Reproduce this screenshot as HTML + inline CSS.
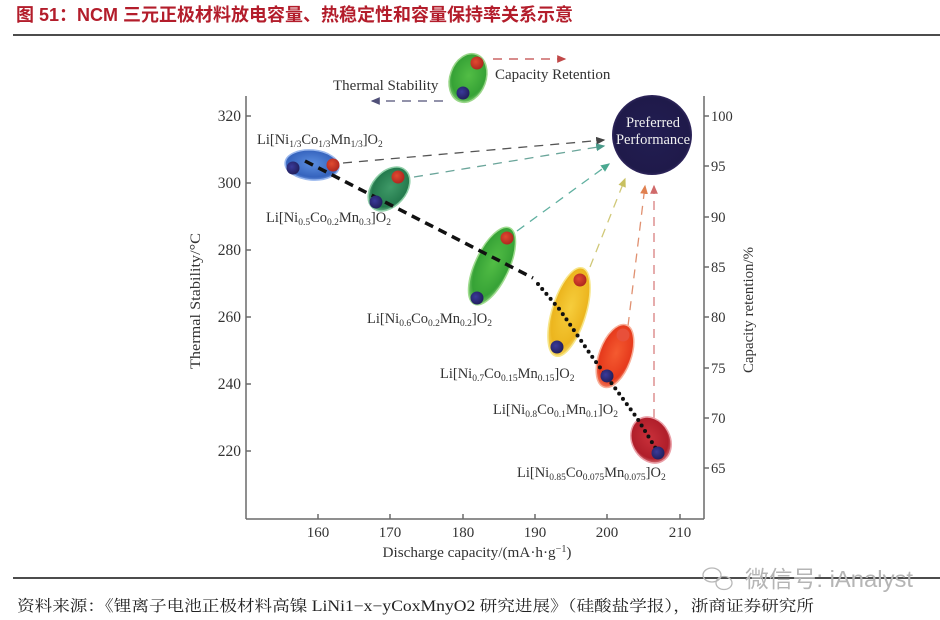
<!DOCTYPE html>
<html><head><meta charset="utf-8">
<style>
html,body{margin:0;padding:0;background:#fff;}
svg{display:block;}
</style></head>
<body>
<svg width="940" height="620" viewBox="0 0 940 620" xmlns="http://www.w3.org/2000/svg">
<defs>
  <radialGradient id="gBlue" cx="50%" cy="45%" r="60%"><stop offset="0" stop-color="#5b8ee0"/><stop offset="0.75" stop-color="#3563bd"/><stop offset="1" stop-color="#7fa4e6"/></radialGradient>
  <radialGradient id="gTeal" cx="50%" cy="45%" r="60%"><stop offset="0" stop-color="#3f9a68"/><stop offset="0.75" stop-color="#247a4d"/><stop offset="1" stop-color="#7fc49a"/></radialGradient>
  <radialGradient id="gGreen" cx="50%" cy="45%" r="60%"><stop offset="0" stop-color="#52bd45"/><stop offset="0.75" stop-color="#36a236"/><stop offset="1" stop-color="#8fd47f"/></radialGradient>
  <radialGradient id="gYellow" cx="50%" cy="45%" r="60%"><stop offset="0" stop-color="#f6cd3c"/><stop offset="0.75" stop-color="#ecb51e"/><stop offset="1" stop-color="#f7e07a"/></radialGradient>
  <radialGradient id="gOrange" cx="50%" cy="45%" r="60%"><stop offset="0" stop-color="#f45a30"/><stop offset="0.75" stop-color="#e63a1c"/><stop offset="1" stop-color="#f59a80"/></radialGradient>
  <radialGradient id="gRed" cx="50%" cy="45%" r="60%"><stop offset="0" stop-color="#c8303a"/><stop offset="0.75" stop-color="#b01e2a"/><stop offset="1" stop-color="#e08a90"/></radialGradient>
  <radialGradient id="gDotR" cx="40%" cy="40%" r="60%"><stop offset="0" stop-color="#e04a30"/><stop offset="1" stop-color="#b02820"/></radialGradient>
  <radialGradient id="gDotB" cx="40%" cy="40%" r="60%"><stop offset="0" stop-color="#3a3a9a"/><stop offset="1" stop-color="#22205e"/></radialGradient>
  <radialGradient id="gPref" cx="50%" cy="50%" r="55%"><stop offset="0" stop-color="#221d52"/><stop offset="0.85" stop-color="#1f1a4a"/><stop offset="1" stop-color="#4a3a7a"/></radialGradient>
  <marker id="aGray" markerWidth="8" markerHeight="8" refX="6" refY="3" orient="auto"><path d="M0,0 L7,3 L0,6 Z" fill="#444"/></marker>
  <marker id="aTeal" markerWidth="8" markerHeight="8" refX="6" refY="3" orient="auto"><path d="M0,0 L7,3 L0,6 Z" fill="#4a9a8a"/></marker>
  <marker id="aGT" markerWidth="8" markerHeight="8" refX="6" refY="3" orient="auto"><path d="M0,0 L7,3 L0,6 Z" fill="#4aa890"/></marker>
  <marker id="aYel" markerWidth="8" markerHeight="8" refX="6" refY="3" orient="auto"><path d="M0,0 L7,3 L0,6 Z" fill="#c8c060"/></marker>
  <marker id="aOr" markerWidth="8" markerHeight="8" refX="6" refY="3" orient="auto"><path d="M0,0 L7,3 L0,6 Z" fill="#e08050"/></marker>
  <marker id="aPk" markerWidth="8" markerHeight="8" refX="6" refY="3" orient="auto"><path d="M0,0 L7,3 L0,6 Z" fill="#d06a6a"/></marker>
  <marker id="aRd" markerWidth="8" markerHeight="8" refX="6" refY="3" orient="auto"><path d="M0,0 L7,3 L0,6 Z" fill="#c04848"/></marker>
  <marker id="aBl" markerWidth="8" markerHeight="8" refX="6" refY="3" orient="auto"><path d="M0,0 L7,3 L0,6 Z" fill="#505078"/></marker>
</defs>

<!-- Title -->
<text x="16" y="21" font-family="'Liberation Sans','Noto Sans CJK SC',sans-serif" font-size="18" font-weight="bold" fill="#b31d2b">图 51：NCM 三元正极材料放电容量、热稳定性和容量保持率关系示意</text>
<line x1="13" y1="35" x2="940" y2="35" stroke="#111" stroke-width="1.5"/>

<!-- Axes -->
<g stroke="#6a6a6a" stroke-width="1.5" fill="none">
  <line x1="246" y1="96" x2="246" y2="519"/>
  <line x1="246" y1="519" x2="704" y2="519"/>
  <line x1="704" y1="96" x2="704" y2="519"/>
  <line x1="246" y1="116" x2="251" y2="116"/>
  <line x1="246" y1="183" x2="251" y2="183"/>
  <line x1="246" y1="250" x2="251" y2="250"/>
  <line x1="246" y1="317" x2="251" y2="317"/>
  <line x1="246" y1="384" x2="251" y2="384"/>
  <line x1="246" y1="451" x2="251" y2="451"/>
  <line x1="318" y1="519" x2="318" y2="514"/>
  <line x1="390" y1="519" x2="390" y2="514"/>
  <line x1="463" y1="519" x2="463" y2="514"/>
  <line x1="535" y1="519" x2="535" y2="514"/>
  <line x1="607" y1="519" x2="607" y2="514"/>
  <line x1="680" y1="519" x2="680" y2="514"/>
  <line x1="704" y1="116" x2="709" y2="116"/>
  <line x1="704" y1="166" x2="709" y2="166"/>
  <line x1="704" y1="217" x2="709" y2="217"/>
  <line x1="704" y1="267" x2="709" y2="267"/>
  <line x1="704" y1="317" x2="709" y2="317"/>
  <line x1="704" y1="368" x2="709" y2="368"/>
  <line x1="704" y1="418" x2="709" y2="418"/>
  <line x1="704" y1="468" x2="709" y2="468"/>
</g>
<g font-family="'Liberation Serif',serif" font-size="15.5" fill="#333" text-anchor="end">
  <text x="241" y="121">320</text>
  <text x="241" y="188">300</text>
  <text x="241" y="255">280</text>
  <text x="241" y="322">260</text>
  <text x="241" y="389">240</text>
  <text x="241" y="456">220</text>
</g>
<g font-family="'Liberation Serif',serif" font-size="15" fill="#333" text-anchor="middle">
  <text x="318" y="537">160</text>
  <text x="390" y="537">170</text>
  <text x="463" y="537">180</text>
  <text x="535" y="537">190</text>
  <text x="607" y="537">200</text>
  <text x="680" y="537">210</text>
</g>
<g font-family="'Liberation Serif',serif" font-size="14.5" fill="#333">
  <text x="711" y="121">100</text>
  <text x="711" y="171">95</text>
  <text x="711" y="222">90</text>
  <text x="711" y="272">85</text>
  <text x="711" y="322">80</text>
  <text x="711" y="373">75</text>
  <text x="711" y="423">70</text>
  <text x="711" y="473">65</text>
</g>
<text transform="translate(200,301) rotate(-90)" text-anchor="middle" font-family="'Liberation Serif',serif" font-size="15" fill="#333" textLength="136" lengthAdjust="spacingAndGlyphs">Thermal Stability/°C</text>
<text transform="translate(753,310) rotate(-90)" text-anchor="middle" font-family="'Liberation Serif',serif" font-size="15" fill="#333" textLength="126" lengthAdjust="spacingAndGlyphs">Capacity retention/%</text>
<text x="477" y="557" text-anchor="middle" font-family="'Liberation Serif',serif" font-size="15" fill="#333" textLength="189" lengthAdjust="spacingAndGlyphs">Discharge capacity/(mA·h·g<tspan font-size="10" dy="-5">−1</tspan><tspan dy="5">)</tspan></text>

<!-- Top legend -->
<line x1="443" y1="101" x2="372" y2="101" stroke="#505078" stroke-width="1.3" stroke-dasharray="9 7" marker-end="url(#aBl)"/>
<line x1="493" y1="59" x2="565" y2="59" stroke="#c04848" stroke-width="1.3" stroke-dasharray="9 7" marker-end="url(#aRd)"/>
<ellipse cx="468" cy="78" rx="18" ry="25" transform="rotate(20 468 78)" fill="url(#gGreen)" stroke="#9ad68a" stroke-width="1.5"/>
<circle cx="477" cy="63" r="6.5" fill="url(#gDotR)"/>
<circle cx="463" cy="93" r="6.5" fill="url(#gDotB)"/>
<text x="333" y="90" font-family="'Liberation Serif',serif" font-size="15" fill="#333">Thermal Stability</text>
<text x="495" y="79" font-family="'Liberation Serif',serif" font-size="15" fill="#333">Capacity Retention</text>

<!-- Preferred performance -->
<circle cx="652" cy="135" r="40" fill="url(#gPref)"/>
<g font-family="'Liberation Serif',serif" font-size="14.5" fill="#f0f0f0" text-anchor="middle">
  <text x="653" y="127">Preferred</text>
  <text x="653" y="144">Performance</text>
</g>

<g stroke-width="1.3" stroke-dasharray="9 7" fill="none">
  <line x1="343" y1="163" x2="604" y2="140" stroke="#555" marker-end="url(#aGray)"/>
  <line x1="414" y1="177" x2="604" y2="146" stroke="#6aa59a" marker-end="url(#aTeal)"/>
  <line x1="517" y1="231" x2="609" y2="164" stroke="#60b0a0" marker-end="url(#aGT)"/>
  <line x1="590" y1="267" x2="625" y2="179" stroke="#d0c878" marker-end="url(#aYel)"/>
  <line x1="628" y1="326" x2="645" y2="186" stroke="#e09070" marker-end="url(#aOr)"/>
  <line x1="654" y1="418" x2="654" y2="186" stroke="#d88080" marker-end="url(#aPk)"/>
</g>

<ellipse cx="312" cy="165" rx="27" ry="15" transform="rotate(5 312 165)" fill="url(#gBlue)" stroke="#9ab8ee" stroke-width="1.5"/>
<ellipse cx="389" cy="189" rx="17" ry="25" transform="rotate(41 389 189)" fill="url(#gTeal)" stroke="#8fcfa8" stroke-width="1.5"/>
<ellipse cx="492" cy="266" rx="17" ry="42" transform="rotate(25 492 266)" fill="url(#gGreen)" stroke="#a0dc90" stroke-width="1.5"/>
<ellipse cx="569" cy="312" rx="17" ry="46" transform="rotate(17 569 312)" fill="url(#gYellow)" stroke="#f7e68a" stroke-width="1.5"/>
<ellipse cx="615" cy="356" rx="16" ry="33" transform="rotate(20 615 356)" fill="url(#gOrange)" stroke="#f8b09a" stroke-width="1.5"/>
<ellipse cx="651" cy="440" rx="19" ry="24" transform="rotate(-28 651 440)" fill="url(#gRed)" stroke="#eaa0a8" stroke-width="1.5"/>

<line x1="305" y1="161" x2="533" y2="278" stroke="#111" stroke-width="3.5" stroke-dasharray="9 6"/>
<path d="M538,284 L560,310 L593,358 L637,418 L658,452" fill="none" stroke="#111" stroke-width="4" stroke-linecap="round" stroke-dasharray="0 6.5"/>

<g>
  <circle cx="293" cy="168" r="6.5" fill="url(#gDotB)"/>
  <circle cx="333" cy="165" r="6.5" fill="url(#gDotR)"/>
  <circle cx="398" cy="177" r="6.5" fill="url(#gDotR)"/>
  <circle cx="376" cy="202" r="6.5" fill="url(#gDotB)"/>
  <circle cx="507" cy="238" r="6.5" fill="url(#gDotR)"/>
  <circle cx="477" cy="298" r="6.5" fill="url(#gDotB)"/>
  <circle cx="580" cy="280" r="6.5" fill="url(#gDotR)"/>
  <circle cx="557" cy="347" r="6.5" fill="url(#gDotB)"/>
  <circle cx="623" cy="335" r="6.5" fill="#e8503a"/>
  <circle cx="607" cy="376" r="6.5" fill="url(#gDotB)"/>
  <circle cx="658" cy="453" r="6.5" fill="url(#gDotB)"/>
</g>

<g font-family="'Liberation Serif',serif" font-size="14.5" fill="#333">
  <text x="257" y="144">Li[Ni<tspan font-size="9.5" dy="3">1/3</tspan><tspan dy="-3">Co</tspan><tspan font-size="9.5" dy="3">1/3</tspan><tspan dy="-3">Mn</tspan><tspan font-size="9.5" dy="3">1/3</tspan><tspan dy="-3">]O</tspan><tspan font-size="9.5" dy="3">2</tspan></text>
  <text x="266" y="222">Li[Ni<tspan font-size="9.5" dy="3">0.5</tspan><tspan dy="-3">Co</tspan><tspan font-size="9.5" dy="3">0.2</tspan><tspan dy="-3">Mn</tspan><tspan font-size="9.5" dy="3">0.3</tspan><tspan dy="-3">]O</tspan><tspan font-size="9.5" dy="3">2</tspan></text>
  <text x="367" y="323">Li[Ni<tspan font-size="9.5" dy="3">0.6</tspan><tspan dy="-3">Co</tspan><tspan font-size="9.5" dy="3">0.2</tspan><tspan dy="-3">Mn</tspan><tspan font-size="9.5" dy="3">0.2</tspan><tspan dy="-3">]O</tspan><tspan font-size="9.5" dy="3">2</tspan></text>
  <text x="440" y="378">Li[Ni<tspan font-size="9.5" dy="3">0.7</tspan><tspan dy="-3">Co</tspan><tspan font-size="9.5" dy="3">0.15</tspan><tspan dy="-3">Mn</tspan><tspan font-size="9.5" dy="3">0.15</tspan><tspan dy="-3">]O</tspan><tspan font-size="9.5" dy="3">2</tspan></text>
  <text x="493" y="414">Li[Ni<tspan font-size="9.5" dy="3">0.8</tspan><tspan dy="-3">Co</tspan><tspan font-size="9.5" dy="3">0.1</tspan><tspan dy="-3">Mn</tspan><tspan font-size="9.5" dy="3">0.1</tspan><tspan dy="-3">]O</tspan><tspan font-size="9.5" dy="3">2</tspan></text>
  <text x="517" y="477">Li[Ni<tspan font-size="9.5" dy="3">0.85</tspan><tspan dy="-3">Co</tspan><tspan font-size="9.5" dy="3">0.075</tspan><tspan dy="-3">Mn</tspan><tspan font-size="9.5" dy="3">0.075</tspan><tspan dy="-3">]O</tspan><tspan font-size="9.5" dy="3">2</tspan></text>
</g>

<!-- footer -->
<line x1="13" y1="578" x2="940" y2="578" stroke="#111" stroke-width="1.5"/>
<g fill="none" stroke="#b8b8b8" stroke-width="1.3">
  <ellipse cx="712" cy="575" rx="9" ry="7"/>
  <ellipse cx="724" cy="583" rx="8" ry="6.5"/>
</g>
<text x="745" y="587" font-family="'Liberation Sans','Noto Sans CJK SC',sans-serif" font-size="23" fill="#b5b5b5" textLength="168" lengthAdjust="spacingAndGlyphs">微信号: iAnalyst</text>
<text x="17" y="611" font-family="'Liberation Serif','Noto Serif CJK SC',serif" font-size="15.5" fill="#222" textLength="797" lengthAdjust="spacingAndGlyphs">资料来源：《锂离子电池正极材料高镍 LiNi1−x−yCoxMnyO2 研究进展》（硅酸盐学报），浙商证券研究所</text>
</svg>
</body></html>
